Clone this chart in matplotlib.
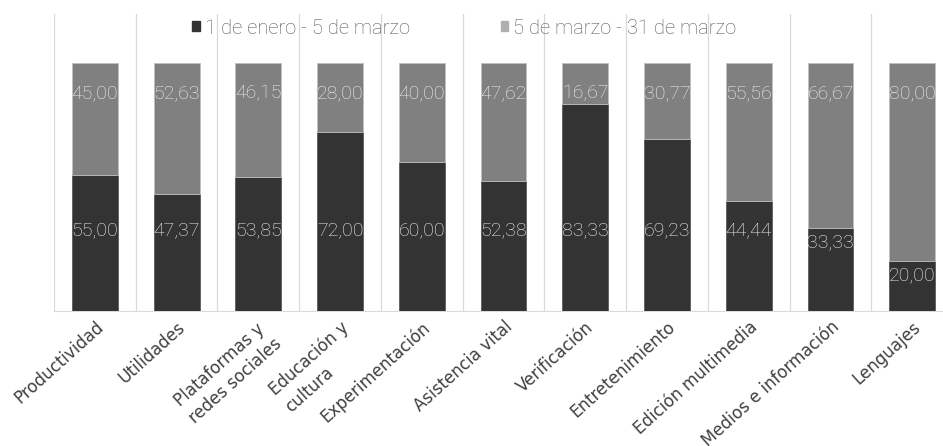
import numpy as np
import matplotlib.pyplot as plt
from matplotlib.patches import Patch

# categories and shares (%) for the two periods
categories = ["Productividad", "Utilidades", "Plataformas y\nredes sociales",
              "Educación y\ncultura", "Experimentación", "Asistencia vital",
              "Verificación", "Entretenimiento", "Edición multimedia",
              "Medios e información", "Lenguajes"]
enero_marzo = [55.00, 47.37, 53.85, 72.00, 60.00, 52.38, 83.33, 69.23, 44.44, 33.33, 20.00]
marzo_fin = [45.00, 52.63, 46.15, 28.00, 40.00, 47.62, 16.67, 30.77, 55.56, 66.67, 80.00]
series_names = ["1 de enero - 5 de marzo", "5 de marzo - 31 de marzo"]

dark = "#333333"
light = "#808080"
num_font = ["DejaVu Sans Condensed", "Roboto", "DejaVu Sans"]

fig = plt.figure(figsize=(9.43, 4.46), dpi=100)
ax = fig.add_axes([0.0573, 0.3027, 0.9533, 0.666])

x = np.arange(len(categories))
ax.bar(x, enero_marzo, width=0.56, color=dark, edgecolor="#5a5a5a", linewidth=0.6, zorder=3)
ax.bar(x, marzo_fin, width=0.56, bottom=enero_marzo, color=light,
       edgecolor="#bfbfbf", linewidth=0.6, zorder=3)

# value labels
for i in range(len(categories)):
    ax.text(x[i], 88, f"{marzo_fin[i]:.2f}".replace(".", ","), ha="center", va="center",
            color="#f2f2f2", fontsize=14, fontweight="light", family=num_font, zorder=4)
    ax.text(x[i], min(32.7, enero_marzo[i] - 5.5), f"{enero_marzo[i]:.2f}".replace(".", ","),
            ha="center", va="center", color="#f2f2f2", fontsize=14, fontweight="light",
            family=num_font, zorder=4)

ax.set_xlim(-0.5, len(categories) - 0.5)
ax.set_ylim(0, 119.8)
ax.set_yticks([])
ax.set_xticks(x)
ax.set_xticklabels(categories, rotation=42, ha="right", rotation_mode="anchor",
                   fontsize=12, color="#404040", linespacing=1.35, multialignment="left",
                   family="DejaVu Sans")
ax.tick_params(axis="x", length=0, pad=5)
ax.set_xticks(np.arange(-0.5, len(categories)), minor=True)
ax.tick_params(axis="x", which="minor", length=0)
ax.grid(axis="x", which="minor", color="#d9d9d9", linewidth=0.9, zorder=0)
for s in ["top", "right", "left"]:
    ax.spines[s].set_visible(False)
ax.spines["bottom"].set_color("#d9d9d9")

handles = [Patch(color=dark), Patch(color="#b0b0b0")]
fig.legend(handles, series_names, loc="center", bbox_to_anchor=(0.4926, 0.937), ncol=2,
           frameon=False, handlelength=0.38, handleheight=0.38, handletextpad=0.25,
           columnspacing=4.5, prop={"family": num_font, "size": 14.5, "weight": "light"},
           labelcolor="#595959")

fig.savefig("out.png", dpi=100)
